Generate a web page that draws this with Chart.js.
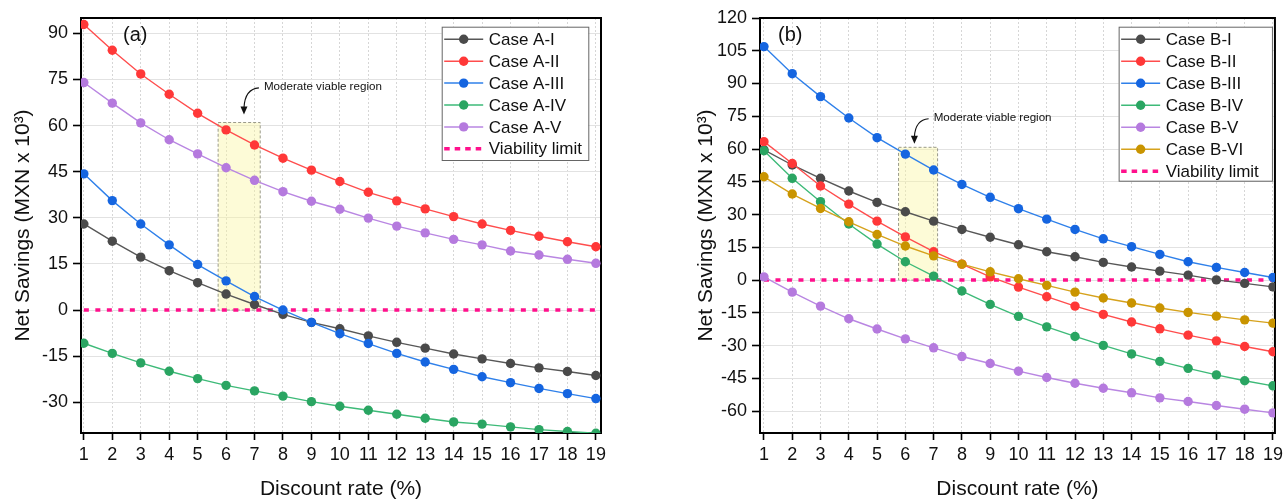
<!DOCTYPE html>
<html>
<head>
<meta charset="utf-8">
<title>Net savings vs discount rate</title>
<script src="https://cdn.jsdelivr.net/npm/chart.js@4.4.1/dist/chart.umd.min.js"></script>
<style>
  body { margin: 0; background: #fff; }
  .wrap { display: flex; width: 1287px; height: 500px; }
  canvas { display: block; }
</style>
</head>
<body>
<div class="wrap">
  <canvas id="chart-a" width="640" height="500"></canvas>
  <canvas id="chart-b" width="647" height="500"></canvas>
</div>
<script>
// discount rate in %, shared by both panels
const discountRates = [1, 2, 3, 4, 5, 6, 7, 8, 9, 10, 11, 12, 13, 14, 15, 16, 17, 18, 19]

// panel (a), net savings in MXN x 10^3
const caseA1 = [28.0, 22.4, 17.2, 12.8, 8.9, 5.2, 1.8, -1.4, -4.0, -6.1, -8.4, -10.5, -12.4, -14.3, -15.9, -17.4, -18.8, -20.0, -21.3]
const caseA2 = [92.9, 84.5, 76.8, 70.2, 64.0, 58.6, 53.7, 49.4, 45.5, 41.8, 38.3, 35.5, 32.9, 30.4, 28.0, 25.9, 24.0, 22.2, 20.6]
const caseA3 = [44.3, 35.6, 28.0, 21.2, 14.8, 9.5, 4.4, 0.0, -4.0, -7.7, -10.9, -14.1, -16.9, -19.3, -21.7, -23.6, -25.5, -27.2, -28.8]
const caseA4 = [-10.8, -14.1, -17.2, -19.9, -22.3, -24.5, -26.3, -28.0, -29.8, -31.3, -32.6, -33.9, -35.2, -36.4, -37.1, -38.0, -38.9, -39.5, -40.1]
const caseA5 = [74.0, 67.3, 60.9, 55.4, 50.8, 46.3, 42.2, 38.5, 35.4, 32.8, 29.9, 27.3, 25.1, 23.0, 21.2, 19.2, 17.9, 16.5, 15.2]

// panel (b)
const caseB1 = [59.6, 52.7, 46.6, 40.8, 35.6, 31.3, 27.0, 23.2, 19.6, 16.2, 13.0, 10.7, 8.1, 6.0, 4.1, 2.3, 0.1, -1.5, -3.1]
const caseB2 = [63.4, 53.4, 43.1, 34.8, 27.0, 19.8, 13.0, 7.3, 1.5, -3.2, -7.6, -11.9, -15.7, -19.2, -22.3, -25.2, -27.8, -30.4, -32.8]
const caseB3 = [106.9, 94.5, 84.0, 74.2, 65.2, 57.7, 50.4, 43.8, 37.9, 32.7, 27.9, 23.2, 18.9, 15.3, 11.8, 8.4, 5.8, 3.5, 1.2]
const caseB4 = [59.2, 46.6, 35.9, 25.7, 16.5, 8.4, 1.8, -5.0, -11.1, -16.6, -21.4, -25.8, -29.9, -33.8, -37.2, -40.4, -43.4, -46.1, -48.4]
const caseB5 = [1.5, -5.5, -11.9, -17.7, -22.4, -26.9, -31.0, -35.0, -38.2, -41.7, -44.6, -47.2, -49.5, -51.6, -53.9, -55.6, -57.4, -59.1, -60.8]
const caseB6 = [47.3, 39.4, 32.8, 26.7, 20.9, 15.6, 11.1, 7.3, 3.8, 0.6, -2.4, -5.5, -8.2, -10.5, -12.8, -14.8, -16.5, -18.2, -19.7]

const viabilityLimit = 0

const yTicksA = [-30, -15, 0, 15, 30, 45, 60, 75, 90]
const yTicksB = [-60, -45, -30, -15, 0, 15, 30, 45, 60, 75, 90, 105, 120]

const labelsA = ['Case A-I', 'Case A-II', 'Case A-III', 'Case A-IV', 'Case A-V']
const labelsB = ['Case B-I', 'Case B-II', 'Case B-III', 'Case B-IV', 'Case B-V', 'Case B-VI']

// moderate viable region: discount rate span and savings ceiling
const regionA = { from: 5.72, to: 7.2, top: 61 }
const regionB = { from: 5.76, to: 7.14, top: 60.8 }

const SANS = "'Liberation Sans', Arial, Helvetica, sans-serif"

const palette = [
   { line: '#575757', dot: '#4a4a4a' },
   { line: '#ff4d4d', dot: '#ff3838' },
   { line: '#2f80ea', dot: '#1565e0' },
   { line: '#3dba78', dot: '#2aa562' },
   { line: '#b986e2', dot: '#b57ade' },
   { line: '#d6a21c', dot: '#c99400' }
]
const pink = '#ff108c'

const toPoints = ys => ys.map((y, i) => ({ x: discountRates[i], y }))

function buildDatasets(labels, series) {
   const sets = series.map((ys, i) => ({
      label: labels[i],
      data: toPoints(ys),
      borderColor: palette[i].line,
      backgroundColor: palette[i].dot,
      pointBackgroundColor: palette[i].dot,
      pointBorderColor: palette[i].dot,
      pointBorderWidth: 0,
      pointRadius: 4.7,
      borderWidth: 1.4,
      tension: 0,
      order: series.length - i
   }))
   const first = discountRates[0]
   const last = discountRates[discountRates.length - 1]
   sets.push({
      label: 'Viability limit',
      data: [{ x: first, y: viabilityLimit }, { x: last, y: viabilityLimit }],
      borderColor: pink,
      backgroundColor: pink,
      borderWidth: 3.5,
      borderDash: [5, 6.5],
      pointRadius: 0,
      order: 20
   })
   return sets
}

// black box round the plot area
const frame = {
   id: 'frame',
   beforeDatasetsDraw(chart) {
      const { ctx, chartArea: a } = chart
      ctx.save()
      ctx.strokeStyle = '#000'
      ctx.lineWidth = 2
      ctx.strokeRect(a.left, a.top, a.right - a.left, a.bottom - a.top)
      ctx.restore()
   }
}

// shaded band, its caption with a curved arrow, and the panel letter
const viableRegion = {
   id: 'viableRegion',
   beforeDatasetsDraw(chart, args, opts) {
      const { ctx, scales: { x, y } } = chart
      const l = x.getPixelForValue(opts.region.from)
      const r = x.getPixelForValue(opts.region.to)
      const t = y.getPixelForValue(opts.region.top)
      const b = y.getPixelForValue(0)
      ctx.save()
      ctx.fillStyle = 'rgba(250, 245, 160, 0.42)'
      ctx.fillRect(l, t, r - l, b - t)
      ctx.setLineDash([3, 2])
      ctx.strokeStyle = '#9a9a8a'
      ctx.lineWidth = 1
      ctx.strokeRect(l, t, r - l, b - t)
      ctx.restore()
   },
   afterDatasetsDraw(chart, args, opts) {
      const { ctx, chartArea, scales: { x, y } } = chart
      const tx = x.getPixelForValue(opts.text.x)
      const ty = y.getPixelForValue(opts.text.y)
      const ax = x.getPixelForValue(opts.tip.x)
      const ay = y.getPixelForValue(opts.tip.y)
      ctx.save()
      ctx.font = `11.6px ${SANS}`
      ctx.fillStyle = '#111'
      ctx.textBaseline = 'middle'
      ctx.fillText('Moderate viable region', tx, ty)

      ctx.strokeStyle = '#111'
      ctx.lineWidth = 1.1
      ctx.beginPath()
      ctx.moveTo(tx - 5, ty + 1)
      ctx.quadraticCurveTo(ax + 1, ty + 2, ax, ay - 7)
      ctx.stroke()
      ctx.beginPath()
      ctx.moveTo(ax - 3.5, ay - 8)
      ctx.lineTo(ax + 3.5, ay - 8)
      ctx.lineTo(ax, ay)
      ctx.closePath()
      ctx.fillStyle = '#111'
      ctx.fill()

      ctx.font = `20px ${SANS}`
      ctx.textBaseline = 'middle'
      ctx.fillText(opts.panel, chartArea.left + opts.panelDx, chartArea.top + 17)
      ctx.restore()
   }
}

// legend box drawn inside the top right corner of the plot
const insideLegend = {
   id: 'insideLegend',
   afterDraw(chart, args, opts) {
      const { ctx, chartArea } = chart
      const sets = chart.data.datasets
      const x0 = chartArea.right - opts.right - opts.width
      const y0 = chartArea.top + opts.top
      ctx.save()
      ctx.fillStyle = '#fff'
      ctx.fillRect(x0, y0, opts.width, opts.height)
      ctx.strokeStyle = '#666'
      ctx.lineWidth = 1
      ctx.strokeRect(x0 + 0.5, y0 + 0.5, opts.width, opts.height)
      ctx.font = `17px ${SANS}`
      ctx.textBaseline = 'middle'
      sets.forEach((ds, i) => {
         const cy = y0 + opts.firstRow + i * opts.rowGap
         const lx0 = x0 + 2.5
         const lx1 = x0 + 41.5
         ctx.beginPath()
         if (ds.borderDash) {
            ctx.setLineDash([5.5, 5])
            ctx.lineWidth = 3.5
         } else {
            ctx.setLineDash([])
            ctx.lineWidth = 1.5
         }
         ctx.strokeStyle = ds.borderColor
         ctx.moveTo(lx0, cy)
         ctx.lineTo(lx1, cy)
         ctx.stroke()
         ctx.setLineDash([])
         if (ds.pointRadius) {
            ctx.beginPath()
            ctx.arc((lx0 + lx1) / 2, cy, ds.pointRadius, 0, Math.PI * 2)
            ctx.fillStyle = ds.pointBackgroundColor
            ctx.fill()
         }
         ctx.fillStyle = '#111'
         ctx.fillText(ds.label, x0 + 47, cy + 1)
      })
      ctx.restore()
   }
}

function makeChart(el, cfg) {
   return new Chart(el, {
      type: 'line',
      data: { datasets: cfg.datasets },
      plugins: [frame, viableRegion, insideLegend],
      options: {
         responsive: false,
         animation: false,
         events: [],
         layout: { padding: { top: 18, right: cfg.padRight, bottom: 0, left: 0 } },
         plugins: {
            legend: { display: false },
            tooltip: { enabled: false },
            viableRegion: cfg.region,
            insideLegend: cfg.legend
         },
         scales: {
            x: {
               type: 'linear',
               min: cfg.xMin,
               max: cfg.xMax,
               afterBuildTicks: s => { s.ticks = discountRates.map(v => ({ value: v })) },
               afterFit: s => { s.height = 67 },
               grid: {
                  color: '#d6d6d6',
                  lineWidth: 1,
                  tickLength: 7,
                  tickColor: '#000',
                  tickWidth: 1.6,
                  tickBorderDash: []
               },
               border: { display: false, dash: [2, 2] },
               ticks: {
                  autoSkip: false,
                  maxRotation: 0,
                  padding: 4,
                  color: '#111',
                  font: { family: SANS, size: 18 }
               },
               title: {
                  display: true,
                  text: 'Discount rate (%)',
                  color: '#111',
                  font: { family: SANS, size: 21, lineHeight: 1 },
                  padding: 0
               }
            },
            y: {
               min: cfg.yMin,
               max: cfg.yMax,
               afterBuildTicks: s => { s.ticks = cfg.yTicks.map(v => ({ value: v })) },
               afterFit: s => { s.width = cfg.yWidth },
               grid: {
                  color: '#e2e2e2',
                  lineWidth: 1,
                  tickLength: 8,
                  tickColor: '#000',
                  tickWidth: 1.6
               },
               border: { display: false },
               ticks: {
                  padding: 5,
                  color: '#111',
                  font: { family: SANS, size: 18 }
               },
               title: {
                  display: true,
                  text: 'Net Savings (MXN x 10³)',
                  color: '#111',
                  font: { family: SANS, size: 21 },
                  padding: { top: cfg.titlePad, bottom: 0 }
               }
            }
         }
      }
   })
}

makeChart(document.getElementById('chart-a'), {
   datasets: buildDatasets(labelsA, [caseA1, caseA2, caseA3, caseA4, caseA5]),
   xMin: 0.9, xMax: 19.18,
   yMin: -40, yMax: 95,
   yTicks: yTicksA,
   yWidth: 81,
   padRight: 39,
   titlePad: 11,
   region: {
      region: regionA,
      text: { x: 7.33, y: 72.6 },
      tip: { x: 6.63, y: 63.6 },
      panel: '(a)',
      panelDx: 42
   },
   legend: { right: 12.7, top: 8.7, width: 146.6, height: 133.3, firstRow: 12.6, rowGap: 21.9 }
})

makeChart(document.getElementById('chart-b'), {
   datasets: buildDatasets(labelsB, [caseB1, caseB2, caseB3, caseB4, caseB5, caseB6]),
   xMin: 0.86, xMax: 19.07,
   yMin: -70, yMax: 120,
   yTicks: yTicksB,
   yWidth: 120,
   padRight: 8,
   titlePad: 54,
   region: {
      region: regionB,
      text: { x: 7.0, y: 74.3 },
      tip: { x: 6.32, y: 62.4 },
      panel: '(b)',
      panelDx: 18
   },
   legend: { right: 3, top: 8.7, width: 153.3, height: 154, firstRow: 12.6, rowGap: 22 }
})
</script>
</body>
</html>
